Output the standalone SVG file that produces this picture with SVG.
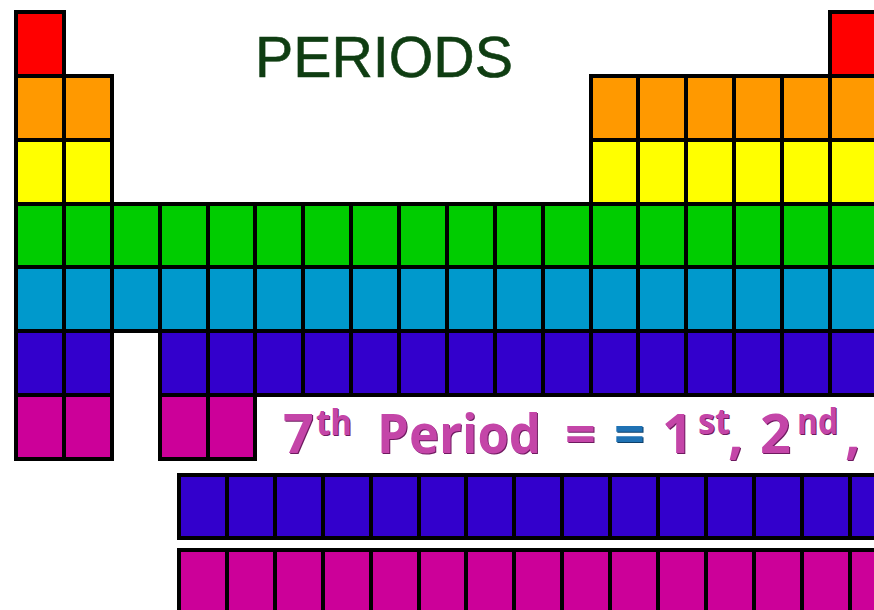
<svg xmlns="http://www.w3.org/2000/svg" xmlns:xlink="http://www.w3.org/1999/xlink" width="874" height="610" viewBox="0 0 874 610">
<style>
rect.c{stroke:#000;stroke-width:4;shape-rendering:crispEdges}
.r{fill:#FF0000}.o{fill:#FF9900}.y{fill:#FFFF00}.g{fill:#00CC00}.cy{fill:#0099CC}.b{fill:#3300CC}.m{fill:#CC0099}
.big{font-family:"Open Sans","Noto Sans",sans-serif;font-weight:700;font-size:54px}
.sup{font-family:"Open Sans","Noto Sans",sans-serif;font-weight:700;font-size:35px}
</style>
<defs>
<g id="sent">
<text class="big" x="283" y="453">7</text>
<text class="sup" x="316" y="435" textLength="36" lengthAdjust="spacingAndGlyphs">th</text>
<text class="big" x="377" y="453" textLength="164" lengthAdjust="spacingAndGlyphs">Period</text>
<text class="big" x="565" y="453">=</text>
<text class="big" x="662" y="453">1</text>
<text class="sup" x="698" y="434" textLength="32" lengthAdjust="spacingAndGlyphs">st</text>
<text class="big" x="728" y="453">,</text>
<text class="big" x="760" y="453">2</text>
<text class="sup" x="797" y="434" textLength="41" lengthAdjust="spacingAndGlyphs">nd</text>
<text class="big" x="845" y="453">,</text>
</g>
</defs>
<rect width="874" height="610" fill="#fff"/>
<g id="title"><text x="255" y="77" font-family="Liberation Sans, Arial, sans-serif" font-size="58" fill="#0F3D12" stroke="#0F3D12" stroke-width="0.6" textLength="258" lengthAdjust="spacingAndGlyphs">PERIODS</text></g>
<g id="period1">
<rect class="c r" x="16" y="12" width="47.88" height="63.86"/>
<rect class="c r" x="829.96" y="12" width="47.88" height="63.86"/>
</g>
<g id="period2">
<rect class="c o" x="16" y="75.86" width="47.88" height="63.86"/>
<rect class="c o" x="63.88" y="75.86" width="47.88" height="63.86"/>
<rect class="c o" x="590.56" y="75.86" width="47.88" height="63.86"/>
<rect class="c o" x="638.44" y="75.86" width="47.88" height="63.86"/>
<rect class="c o" x="686.32" y="75.86" width="47.88" height="63.86"/>
<rect class="c o" x="734.2" y="75.86" width="47.88" height="63.86"/>
<rect class="c o" x="782.08" y="75.86" width="47.88" height="63.86"/>
<rect class="c o" x="829.96" y="75.86" width="47.88" height="63.86"/>
</g>
<g id="period3">
<rect class="c y" x="16" y="139.72" width="47.88" height="63.86"/>
<rect class="c y" x="63.88" y="139.72" width="47.88" height="63.86"/>
<rect class="c y" x="590.56" y="139.72" width="47.88" height="63.86"/>
<rect class="c y" x="638.44" y="139.72" width="47.88" height="63.86"/>
<rect class="c y" x="686.32" y="139.72" width="47.88" height="63.86"/>
<rect class="c y" x="734.2" y="139.72" width="47.88" height="63.86"/>
<rect class="c y" x="782.08" y="139.72" width="47.88" height="63.86"/>
<rect class="c y" x="829.96" y="139.72" width="47.88" height="63.86"/>
</g>
<g id="period4">
<rect class="c g" x="16" y="203.58" width="47.88" height="63.86"/>
<rect class="c g" x="63.88" y="203.58" width="47.88" height="63.86"/>
<rect class="c g" x="111.76" y="203.58" width="47.88" height="63.86"/>
<rect class="c g" x="159.64" y="203.58" width="47.88" height="63.86"/>
<rect class="c g" x="207.52" y="203.58" width="47.88" height="63.86"/>
<rect class="c g" x="255.4" y="203.58" width="47.88" height="63.86"/>
<rect class="c g" x="303.28" y="203.58" width="47.88" height="63.86"/>
<rect class="c g" x="351.16" y="203.58" width="47.88" height="63.86"/>
<rect class="c g" x="399.04" y="203.58" width="47.88" height="63.86"/>
<rect class="c g" x="446.92" y="203.58" width="47.88" height="63.86"/>
<rect class="c g" x="494.8" y="203.58" width="47.88" height="63.86"/>
<rect class="c g" x="542.68" y="203.58" width="47.88" height="63.86"/>
<rect class="c g" x="590.56" y="203.58" width="47.88" height="63.86"/>
<rect class="c g" x="638.44" y="203.58" width="47.88" height="63.86"/>
<rect class="c g" x="686.32" y="203.58" width="47.88" height="63.86"/>
<rect class="c g" x="734.2" y="203.58" width="47.88" height="63.86"/>
<rect class="c g" x="782.08" y="203.58" width="47.88" height="63.86"/>
<rect class="c g" x="829.96" y="203.58" width="47.88" height="63.86"/>
</g>
<g id="period5">
<rect class="c cy" x="16" y="267.44" width="47.88" height="63.86"/>
<rect class="c cy" x="63.88" y="267.44" width="47.88" height="63.86"/>
<rect class="c cy" x="111.76" y="267.44" width="47.88" height="63.86"/>
<rect class="c cy" x="159.64" y="267.44" width="47.88" height="63.86"/>
<rect class="c cy" x="207.52" y="267.44" width="47.88" height="63.86"/>
<rect class="c cy" x="255.4" y="267.44" width="47.88" height="63.86"/>
<rect class="c cy" x="303.28" y="267.44" width="47.88" height="63.86"/>
<rect class="c cy" x="351.16" y="267.44" width="47.88" height="63.86"/>
<rect class="c cy" x="399.04" y="267.44" width="47.88" height="63.86"/>
<rect class="c cy" x="446.92" y="267.44" width="47.88" height="63.86"/>
<rect class="c cy" x="494.8" y="267.44" width="47.88" height="63.86"/>
<rect class="c cy" x="542.68" y="267.44" width="47.88" height="63.86"/>
<rect class="c cy" x="590.56" y="267.44" width="47.88" height="63.86"/>
<rect class="c cy" x="638.44" y="267.44" width="47.88" height="63.86"/>
<rect class="c cy" x="686.32" y="267.44" width="47.88" height="63.86"/>
<rect class="c cy" x="734.2" y="267.44" width="47.88" height="63.86"/>
<rect class="c cy" x="782.08" y="267.44" width="47.88" height="63.86"/>
<rect class="c cy" x="829.96" y="267.44" width="47.88" height="63.86"/>
</g>
<g id="period6">
<rect class="c b" x="16" y="331.3" width="47.88" height="63.86"/>
<rect class="c b" x="63.88" y="331.3" width="47.88" height="63.86"/>
<rect class="c b" x="159.64" y="331.3" width="47.88" height="63.86"/>
<rect class="c b" x="207.52" y="331.3" width="47.88" height="63.86"/>
<rect class="c b" x="255.4" y="331.3" width="47.88" height="63.86"/>
<rect class="c b" x="303.28" y="331.3" width="47.88" height="63.86"/>
<rect class="c b" x="351.16" y="331.3" width="47.88" height="63.86"/>
<rect class="c b" x="399.04" y="331.3" width="47.88" height="63.86"/>
<rect class="c b" x="446.92" y="331.3" width="47.88" height="63.86"/>
<rect class="c b" x="494.8" y="331.3" width="47.88" height="63.86"/>
<rect class="c b" x="542.68" y="331.3" width="47.88" height="63.86"/>
<rect class="c b" x="590.56" y="331.3" width="47.88" height="63.86"/>
<rect class="c b" x="638.44" y="331.3" width="47.88" height="63.86"/>
<rect class="c b" x="686.32" y="331.3" width="47.88" height="63.86"/>
<rect class="c b" x="734.2" y="331.3" width="47.88" height="63.86"/>
<rect class="c b" x="782.08" y="331.3" width="47.88" height="63.86"/>
<rect class="c b" x="829.96" y="331.3" width="47.88" height="63.86"/>
</g>
<g id="period7">
<rect class="c m" x="16" y="395.16" width="47.88" height="63.86"/>
<rect class="c m" x="63.88" y="395.16" width="47.88" height="63.86"/>
<rect class="c m" x="159.64" y="395.16" width="47.88" height="63.86"/>
<rect class="c m" x="207.52" y="395.16" width="47.88" height="63.86"/>
</g>
<g id="lanthanides">
<rect class="c b" x="179" y="475" width="47.9" height="63"/>
<rect class="c b" x="226.9" y="475" width="47.9" height="63"/>
<rect class="c b" x="274.8" y="475" width="47.9" height="63"/>
<rect class="c b" x="322.7" y="475" width="47.9" height="63"/>
<rect class="c b" x="370.6" y="475" width="47.9" height="63"/>
<rect class="c b" x="418.5" y="475" width="47.9" height="63"/>
<rect class="c b" x="466.4" y="475" width="47.9" height="63"/>
<rect class="c b" x="514.3" y="475" width="47.9" height="63"/>
<rect class="c b" x="562.2" y="475" width="47.9" height="63"/>
<rect class="c b" x="610.1" y="475" width="47.9" height="63"/>
<rect class="c b" x="658" y="475" width="47.9" height="63"/>
<rect class="c b" x="705.9" y="475" width="47.9" height="63"/>
<rect class="c b" x="753.8" y="475" width="47.9" height="63"/>
<rect class="c b" x="801.7" y="475" width="47.9" height="63"/>
<rect class="c b" x="849.6" y="475" width="47.9" height="63"/>
</g>
<g id="actinides">
<rect class="c m" x="179" y="550" width="47.9" height="64"/>
<rect class="c m" x="226.9" y="550" width="47.9" height="64"/>
<rect class="c m" x="274.8" y="550" width="47.9" height="64"/>
<rect class="c m" x="322.7" y="550" width="47.9" height="64"/>
<rect class="c m" x="370.6" y="550" width="47.9" height="64"/>
<rect class="c m" x="418.5" y="550" width="47.9" height="64"/>
<rect class="c m" x="466.4" y="550" width="47.9" height="64"/>
<rect class="c m" x="514.3" y="550" width="47.9" height="64"/>
<rect class="c m" x="562.2" y="550" width="47.9" height="64"/>
<rect class="c m" x="610.1" y="550" width="47.9" height="64"/>
<rect class="c m" x="658" y="550" width="47.9" height="64"/>
<rect class="c m" x="705.9" y="550" width="47.9" height="64"/>
<rect class="c m" x="753.8" y="550" width="47.9" height="64"/>
<rect class="c m" x="801.7" y="550" width="47.9" height="64"/>
<rect class="c m" x="849.6" y="550" width="47.9" height="64"/>
</g>
<g id="caption">
<use xlink:href="#sent" fill="#6E1A60" transform="translate(1,1)"/>
<use xlink:href="#sent" fill="#C445A8"/>
<text class="big" x="615" y="454" fill="#0E3F6A">=</text>
<text class="big" x="614" y="453" fill="#1F72B4">=</text>
</g>
</svg>
